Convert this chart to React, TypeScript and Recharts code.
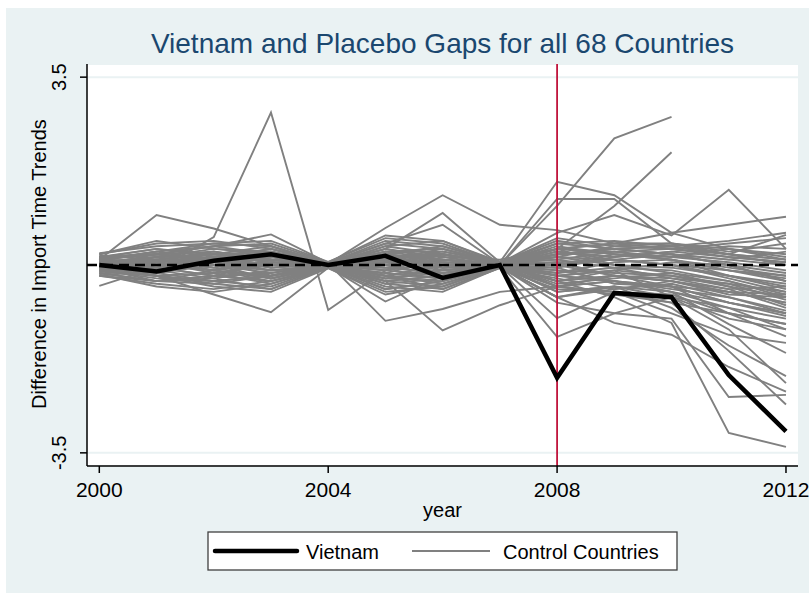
import React from 'react';
import { LineChart, Line, XAxis, YAxis, CartesianGrid, ReferenceLine } from 'recharts';

const years = [2000, 2001, 2002, 2003, 2004, 2005, 2006, 2007, 2008, 2009, 2010, 2011, 2012];

const vietnam = [0.0, -0.12, 0.08, 0.2, 0.0, 0.17, -0.24, 0.0, -2.1, -0.52, -0.6, -2.05, -3.1];

// placebo gaps, one row per control country (2000..2012)
const controls: (number | null)[][] = [
  [0.05, -0.1, 0.52, 2.84, -0.84, -0.1, -0.2, 0.0, 0.3, 0.2, 0.1, -0.2, -0.4],
  [0.1, 0.93, 0.68, 0.35, 0.02, 0.3, 0.1, 0.02, -0.1, -0.3, -0.4, -0.7, -0.9],
  [-0.39, -0.05, 0.1, 0.3, 0.05, 0.2, -0.1, 0.0, 0.2, 0.3, 0.2, 0.0, -0.3],
  [-0.1, -0.2, -0.55, -0.88, -0.05, -0.3, -0.2, 0.0, -0.5, -0.4, -0.6, -1.0, -1.2],
  [0.1, 0.2, 0.35, 0.57, 0.04, -0.1, 0.2, 0.05, 0.4, 0.3, 0.2, 0.1, 0.0],
  [0.0, -0.1, 0.1, 0.0, 0.02, 0.69, 1.3, 0.75, 0.65, 0.4, 0.3, 0.2, 0.1],
  [0.05, 0.1, -0.1, 0.2, 0.0, 0.3, 0.97, 0.05, -0.3, -0.2, -0.3, -0.5, -0.7],
  [-0.05, 0.15, 0.2, 0.1, 0.03, 0.4, 0.75, 0.02, 0.15, 0.1, 0.0, -0.1, -0.25],
  [0.0, -0.1, 0.1, -0.2, 0.03, -1.04, -0.82, -0.5, -0.4, -0.3, -0.5, -0.7, -0.9],
  [0.1, 0.0, -0.1, 0.1, 0.0, -0.3, -1.22, -0.75, -0.4, -0.55, -0.7, -0.9, -1.1],
  [0.0, 0.1, 0.0, -0.1, -0.03, -0.68, -0.2, 0.0, -0.2, -0.1, -0.2, -0.4, -0.6],
  [0.1, 0.05, -0.1, -0.2, 0.02, 0.2, 0.1, 0.0, 1.1, 2.36, 2.76, null, null],
  [-0.05, 0.1, 0.2, 0.05, -0.02, -0.1, 0.15, 0.1, 0.3, 1.1, 2.1, null, null],
  [0.15, 0.2, 0.1, 0.25, 0.03, 0.1, 0.3, 0.05, 1.55, 1.3, 0.6, 0.3, 0.1],
  [-0.1, 0.0, 0.15, 0.1, 0.01, 0.2, 0.05, 0.0, 1.23, 1.23, 0.4, 0.2, 0.0],
  [0.05, 0.15, 0.0, -0.15, 0.02, 0.1, 0.2, 0.03, 0.6, 0.93, 0.55, 1.4, 0.3],
  [0.0, -0.05, 0.1, 0.2, 0.02, 0.05, 0.1, 0.02, 0.3, 0.4, 0.6, 0.75, 0.9],
  [0.12, 0.2, 0.25, 0.1, 0.01, 0.15, 0.0, 0.01, 0.2, 0.3, 0.35, 0.2, 0.56],
  [-0.1, -0.2, -0.15, 0.0, -0.02, -0.2, -0.1, -0.01, -0.3, -0.6, -1.08, -3.13, -3.39],
  [0.05, -0.05, -0.2, -0.3, -0.03, -0.3, -0.4, -0.03, -0.7, -0.9, -1.0, -2.46, -2.42],
  [-0.15, -0.3, -0.35, -0.2, -0.04, -0.45, -0.3, -0.02, -0.99, -0.5, -0.7, -1.6, -2.6],
  [0.0, 0.1, -0.05, -0.25, -0.02, -0.2, -0.45, -0.05, -1.34, -0.9, -0.6, -1.2, -2.2],
  [0.08, 0.0, 0.1, -0.1, 0.0, 0.1, -0.15, -0.02, -0.5, -0.4, -0.8, -1.5, -2.07],
  [-0.05, -0.15, 0.05, 0.15, 0.01, -0.05, 0.1, 0.0, -0.2, -0.3, -0.5, -1.1, -1.64],
  [0.1, 0.25, 0.1, -0.05, 0.02, 0.2, -0.05, -0.01, -0.4, -0.5, -0.9, -1.3, -1.45],
  [-0.2, -0.1, 0.0, 0.05, -0.01, 0.0, 0.2, 0.02, 0.0, -0.2, -0.4, -0.9, -1.33],
  [0.0, -0.2, -0.3, -0.4, -0.04, -0.25, -0.1, 0.0, -0.3, -0.1, -0.6, -0.8, -1.2],
  [-0.08, 0.05, 0.15, 0.0, 0.01, -0.35, -0.25, -0.04, -0.6, -1.08, -1.3, -1.9, -2.36],
  [0.15, 0.3, 0.2, 0.1, 0.02, 0.25, 0.3, 0.03, 0.2, 0.3, 0.35, 0.2, 0.1],
  [-0.1, -0.25, -0.3, -0.2, -0.02, -0.3, -0.2, -0.02, -0.3, -0.2, -0.3, -0.5, -0.7],
  [0.05, 0.15, 0.3, 0.25, 0.04, 0.45, 0.35, 0.05, 0.1, 0.25, 0.3, 0.4, 0.5],
  [-0.2, -0.35, -0.45, -0.3, -0.06, -0.5, -0.4, -0.04, -0.6, -0.4, -0.5, -0.8, -1.0],
  [0.2, 0.4, 0.45, 0.3, 0.05, 0.2, 0.1, 0.02, 0.35, 0.2, 0.1, -0.1, -0.3],
  [0.0, 0.05, -0.15, -0.35, -0.03, 0.1, 0.25, 0.06, 0.0, 0.1, 0.0, -0.2, -0.45],
  [-0.15, -0.3, -0.2, 0.05, 0.01, -0.2, -0.35, -0.05, -0.2, -0.3, -0.45, -0.6, -0.85],
  [0.1, 0.2, 0.1, -0.1, 0.0, 0.35, 0.45, 0.04, 0.5, 0.35, 0.3, 0.15, 0.05],
  [0.05, -0.1, -0.25, -0.45, -0.04, -0.45, -0.3, -0.03, -0.1, -0.15, -0.2, -0.35, -0.5],
  [0.22, 0.35, 0.4, 0.45, 0.06, 0.5, 0.4, 0.03, 0.3, 0.4, 0.4, 0.3, 0.2],
  [-0.05, 0.1, 0.05, 0.15, 0.02, 0.05, -0.1, -0.01, -0.15, 0.05, 0.1, -0.05, -0.2],
  [0.12, 0.0, -0.1, 0.05, 0.03, 0.15, 0.2, 0.02, 0.1, -0.05, -0.1, -0.3, -0.6],
  [-0.18, -0.4, -0.5, -0.35, -0.05, -0.35, -0.45, -0.06, -0.45, -0.5, -0.55, -0.9, -1.1],
  [0.08, 0.25, 0.35, 0.2, 0.03, 0.3, 0.15, 0.0, 0.25, 0.15, 0.25, 0.35, 0.3],
  [-0.08, -0.15, 0.0, 0.2, 0.01, -0.1, 0.05, 0.01, -0.35, -0.25, -0.15, -0.4, -0.75],
  [0.18, 0.1, 0.2, 0.35, 0.04, 0.4, 0.3, 0.02, 0.0, 0.2, 0.15, 0.05, -0.1],
  [-0.12, -0.2, -0.35, -0.45, -0.05, -0.15, -0.25, -0.02, -0.05, -0.35, -0.4, -0.7, -0.95],
  [0.02, 0.1, 0.25, 0.1, 0.0, -0.25, -0.15, 0.0, 0.15, 0.0, -0.05, -0.2, -0.35],
  [0.14, 0.3, 0.15, -0.05, 0.02, 0.2, 0.35, 0.05, 0.45, 0.3, 0.2, 0.0, -0.15],
  [-0.2, -0.3, -0.1, -0.25, -0.04, -0.4, -0.5, -0.05, -0.25, -0.45, -0.3, -0.55, -0.6],
  [0.06, -0.05, 0.15, 0.3, 0.02, 0.1, 0.05, 0.0, 0.05, 0.1, 0.2, 0.1, 0.25],
  [0.0, 0.2, 0.35, 0.4, 0.05, 0.55, 0.45, 0.06, 0.3, 0.25, 0.1, -0.1, -0.2],
  [-0.1, -0.05, -0.2, -0.15, -0.01, -0.05, -0.15, -0.03, -0.6, -0.45, -0.35, -0.6, -0.9],
  [0.1, 0.05, -0.05, 0.15, 0.01, 0.15, -0.05, 0.01, 0.4, 0.45, 0.35, 0.45, 0.6],
  [-0.04, -0.2, -0.4, -0.5, -0.06, -0.55, -0.35, -0.04, -0.4, -0.3, -0.4, -0.5, -0.55],
  [0.2, 0.45, 0.3, 0.2, 0.04, 0.05, 0.2, 0.03, -0.2, -0.1, 0.05, 0.0, -0.3],
  [-0.16, -0.1, 0.1, 0.0, -0.02, 0.25, 0.1, 0.0, 0.25, 0.1, 0.0, -0.25, -0.5],
  [0.03, 0.15, 0.0, -0.25, -0.02, -0.15, 0.1, 0.02, 0.05, -0.2, -0.3, -0.45, -0.8],
  [0.1, 0.25, 0.4, 0.35, 0.03, 0.25, 0.25, 0.04, 0.15, 0.35, 0.4, 0.25, 0.4],
  [-0.06, -0.3, -0.25, -0.1, -0.03, -0.25, -0.3, -0.02, -0.15, -0.05, -0.25, -0.35, -0.65],
  [0.16, 0.2, 0.05, 0.1, 0.03, 0.0, -0.2, -0.03, 0.2, 0.25, 0.15, 0.3, 0.15],
  [-0.02, 0.05, 0.2, 0.25, 0.02, 0.35, 0.2, 0.05, -0.4, -0.2, -0.25, -0.45, -0.4],
  [0.04, -0.15, -0.3, -0.2, -0.03, -0.2, 0.0, -0.01, 0.3, 0.0, -0.15, -0.3, -0.55],
  [-0.12, 0.0, -0.1, -0.3, -0.04, 0.05, -0.05, 0.01, -0.05, 0.15, 0.25, 0.15, 0.05],
];

const xTicks = [2000, 2004, 2008, 2012];
const yTicks = [-3.5, 3.5];
const treatmentYear = 2008;

const data = years.map((year, i) => {
  const row: Record<string, number | null> = { year, vietnam: vietnam[i] };
  controls.forEach((c, j) => {
    row[`c${j}`] = c[i];
  });
  return row;
});

const FONT = '"Liberation Sans", Arial, sans-serif';
const GRAY = '#808080';

const XTick = ({ x, y, payload }: any) => (
  <text x={x} y={y + 22} textAnchor="middle" fontSize={21} fontFamily={FONT} fill="#000">
    {payload.value}
  </text>
);

const YTick = ({ x, y, payload }: any) => {
  const bx = x - 12;
  return (
    <text
      x={bx}
      y={y}
      transform={`rotate(-90 ${bx} ${y})`}
      textAnchor="middle"
      fontSize={20}
      fontFamily={FONT}
      fill="#000"
    >
      {payload.value}
    </text>
  );
};

export default function App() {
  return (
    <div
      style={{
        position: 'absolute',
        left: 6,
        top: 8,
        width: 803,
        height: 585,
        background: '#eaf2f3',
      }}
    >
      <LineChart width={803} height={585} data={data} margin={{ top: 56, right: 11, bottom: 87, left: 0 }}>
        <CartesianGrid vertical={false} stroke="#eaf2f3" strokeWidth={2} fill="#ffffff" />
        <XAxis
          dataKey="year"
          type="number"
          domain={[1999.785, 2012.21]}
          ticks={xTicks}
          allowDataOverflow
          height={40}
          tickSize={7}
          tick={<XTick />}
          stroke="#000"
          strokeWidth={1.5}
        />
        <YAxis
          type="number"
          domain={[-3.745, 3.745]}
          ticks={yTicks}
          allowDataOverflow
          width={81}
          tickSize={7}
          tick={<YTick />}
          stroke="#000"
          strokeWidth={1.5}
        />
        {controls.map((_, j) => (
          <Line
            key={j}
            dataKey={`c${j}`}
            stroke={GRAY}
            strokeWidth={1.9}
            dot={false}
            activeDot={false}
            isAnimationActive={false}
            type="linear"
          />
        ))}
        <ReferenceLine y={0} stroke="#000" strokeWidth={2.4} strokeDasharray="10 6" />
        <ReferenceLine x={treatmentYear} stroke="#c0143c" strokeWidth={1.8} />
        <Line
          dataKey="vietnam"
          stroke="#000"
          strokeWidth={4.5}
          dot={false}
          activeDot={false}
          isAnimationActive={false}
          type="linear"
        />
      </LineChart>
      <svg
        width={803}
        height={585}
        style={{ position: 'absolute', left: 0, top: 0, pointerEvents: 'none' }}
        fontFamily={FONT}
      >
        <text x={436.5} y={45} textAnchor="middle" fontSize={28} fill="#1a476f">
          Vietnam and Placebo Gaps for all 68 Countries
        </text>
        <text
          x={39.5}
          y={256}
          transform="rotate(-90 39.5 256)"
          textAnchor="middle"
          fontSize={20}
          fill="#000"
        >
          Difference in Import Time Trends
        </text>
        <text x={436.5} y={509} textAnchor="middle" fontSize={20} fill="#000">
          year
        </text>
        <rect x={202} y={524} width={469} height={38} fill="#fff" stroke="#404040" strokeWidth={1.3} />
        <line x1={209} y1={543} x2={291} y2={543} stroke="#000" strokeWidth={4.5} strokeLinecap="round" />
        <text x={300} y={551} fontSize={20} fill="#000">
          Vietnam
        </text>
        <line x1={406} y1={543} x2={484} y2={543} stroke={GRAY} strokeWidth={1.9} />
        <text x={497} y={551} fontSize={20} fill="#000">
          Control Countries
        </text>
      </svg>
    </div>
  );
}
